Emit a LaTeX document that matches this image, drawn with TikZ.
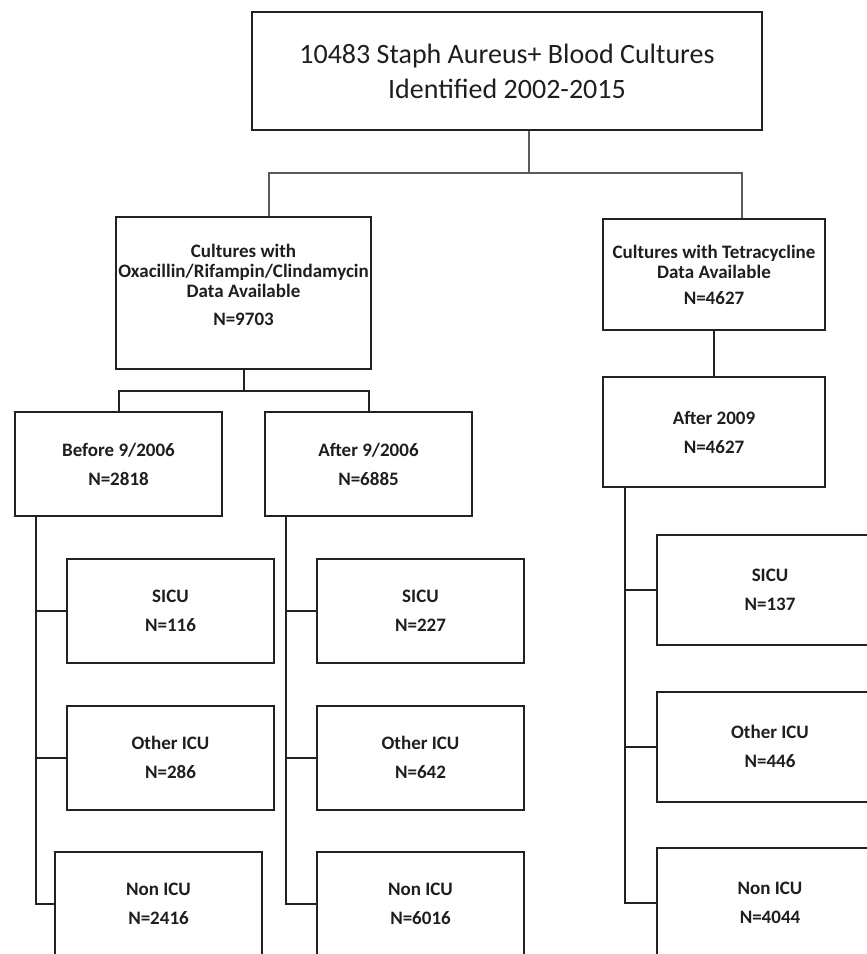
\documentclass[tikz,border=0pt]{standalone}
\usepackage{fontspec}
\setmainfont{Carlito}
\tikzset{every picture/.style={line width=0.75pt}}
\tikzset{
  cbox/.style={draw={rgb, 255:red, 34; green, 34; blue, 34}, line width=1.5pt, align=center, inner sep=0pt,
    text={rgb, 255:red, 30; green, 30; blue, 30}, font=\bfseries\fontsize{14.25}{15}\selectfont},
  topbox/.style={cbox, line width=1.8pt, font=\fontsize{21}{26.25}\selectfont},
  smallbox/.style={cbox, minimum width=155.25pt, minimum height=78pt},
  widebox/.style={cbox, minimum width=169.5pt, minimum height=82.5pt},
  toplink/.style={draw={rgb, 255:red, 90; green, 90; blue, 90}, line width=1.2pt},
  link/.style={draw={rgb, 255:red, 34; green, 34; blue, 34}, line width=1.5pt}
}

\begin{document}
\begin{tikzpicture}[x=0.75pt,y=0.75pt,yscale=-1,xscale=1]
    \useasboundingbox (0,0) rectangle (867,954);
    \clip (0,0) rectangle (867,954);

    %Rectangle: all cultures
    \node[topbox, minimum width=382.5pt, minimum height=88.5pt] (top) at (507,71) {10483 Staph Aureus+ Blood Cultures\\Identified 2002-2015};
    %Rectangle: oxacillin branch
    \node[cbox, minimum width=191.25pt, minimum height=114pt, text depth=13pt] (oxa) at (243.5,293) {Cultures with\\Oxacillin/Rifampin/Clindamycin\\Data Available\\[6pt]N=9703};
    %Rectangle: tetracycline branch
    \node[cbox, minimum width=166.5pt, minimum height=83.25pt] (tet) at (714,274.5) {Cultures with Tetracycline\\Data Available\\[4.5pt]N=4627};
    %Rectangle: before 9/2006
    \node[smallbox] (before) at (118.5,464) {Before 9/2006\\[6.75pt]N=2818};
    %Rectangle: after 9/2006
    \node[smallbox] (after) at (368.5,464) {After 9/2006\\[6.75pt]N=6885};
    %Rectangle: after 2009
    \node[cbox, minimum width=166.5pt, minimum height=82.5pt] (aft09) at (714,432) {After 2009\\[6.75pt]N=4627};

    %Rectangle: left column
    \node[smallbox] (sicuL) at (170.5,611) {SICU\\[6.75pt]N=116};
    \node[smallbox] (othL) at (170.5,757.5) {Other ICU\\[6.75pt]N=286};
    \node[smallbox] (nonL) at (158.5,904) {Non ICU\\[6.75pt]N=2416};
    %Rectangle: middle column
    \node[smallbox] (sicuM) at (420.5,611) {SICU\\[6.75pt]N=227};
    \node[smallbox] (othM) at (420.5,757.5) {Other ICU\\[6.75pt]N=642};
    \node[smallbox] (nonM) at (420.5,904) {Non ICU\\[6.75pt]N=6016};
    %Rectangle: right column
    \node[widebox] (sicuR) at (770,589.5) {SICU\\[6.75pt]N=137};
    \node[widebox] (othR) at (770,746.5) {Other ICU\\[6.75pt]N=446};
    \node[widebox] (nonR) at (770,903) {Non ICU\\[6.75pt]N=4044};

    %Junctions
    \coordinate (jTop) at (529,173);
    \coordinate (jOxa) at (269,173);
    \coordinate (jTet) at (742,173);
    \coordinate (jSplit) at (244,391);
    \coordinate (sL) at (36,0);
    \coordinate (sM) at (286,0);
    \coordinate (sR) at (625,0);

    %Straight Lines: first split
    \draw[toplink] (top.south -| jTop) -- (jTop);
    \draw[toplink] (jOxa |- oxa.north) -- (jOxa) -- (jTet) -- (jTet |- tet.north);
    %Straight Lines: second split
    \draw[link] (oxa.south) -- (oxa.south |- jSplit);
    \draw[link] (before.north) |- (jSplit) -| (after.north);
    \draw[link] (tet.south) -- (aft09.north);
    %Straight Lines: left spine
    \draw[link] (sL |- before.south) |- (nonL.west);
    \draw[link] (sL |- sicuL.west) -- (sicuL.west);
    \draw[link] (sL |- othL.west) -- (othL.west);
    %Straight Lines: middle spine
    \draw[link] (sM |- after.south) |- (nonM.west);
    \draw[link] (sM |- sicuM.west) -- (sicuM.west);
    \draw[link] (sM |- othM.west) -- (othM.west);
    %Straight Lines: right spine
    \draw[link] (sR |- aft09.south) |- (nonR.west);
    \draw[link] (sR |- sicuR.west) -- (sicuR.west);
    \draw[link] (sR |- othR.west) -- (othR.west);

\end{tikzpicture}
\end{document}
